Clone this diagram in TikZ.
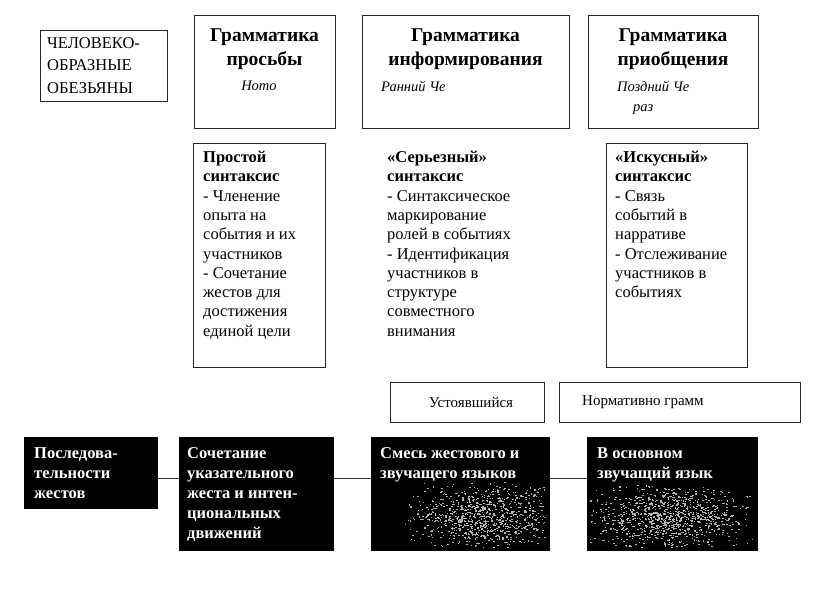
\documentclass[tikz,border=0pt]{standalone}
\usepackage{fontspec}
\setmainfont{Liberation Serif}
\begin{document}
\begin{tikzpicture}[x=1pt,y=-1pt,
  frame/.style={draw=black!85, line width=0.9pt, inner sep=0pt, anchor=north west},
  darkbox/.style={fill=black, draw=black, inner sep=0pt, anchor=north west},
  titletext/.style={font=\fontsize{19.5}{24}\selectfont\bfseries, align=center, anchor=north, inner sep=0pt},
  subtext/.style={font=\fontsize{14.5}{25}\selectfont\itshape, inner sep=0pt},
  apetext/.style={font=\fontsize{16.5}{22.5}\selectfont, align=left, anchor=north west, inner sep=0pt},
  bodytext/.style={font=\fontsize{16.5}{19.3}\selectfont, align=left, anchor=north west, inner sep=0pt},
  labeltext/.style={font=\fontsize{15}{18}\selectfont, inner sep=0pt},
  whitetext/.style={font=\fontsize{16.5}{20}\selectfont\bfseries, text=white, align=left, anchor=north west, inner sep=0pt},
  link/.style={draw=black!80, line width=0.9pt},
  grain/.style={fill=black!30, draw=none}
]
\useasboundingbox (0,0) rectangle (817,596);

% Apes box
\node[frame, minimum width=127pt, minimum height=71pt] (apes) at (40,30) {};
\node[apetext] (apesT) at (47,37) {ЧЕЛОВЕКО-\\ОБРАЗНЫЕ\\ОБЕЗЬЯНЫ};

% Top grammar boxes
\node[frame, minimum width=141pt, minimum height=113pt] (g1) at (194,15) {};
\node[frame, minimum width=207pt, minimum height=113pt] (g2) at (362,15) {};
\node[frame, minimum width=170pt, minimum height=113pt] (g3) at (588,15) {};

\node[titletext] (g1T) at (264.5,29) {Грамматика\\просьбы};
\node[titletext] (g2T) at (465.5,29) {Грамматика\\информирования};
\node[titletext] (g3T) at (673,29) {Грамматика\\приобщения};

\node[subtext] (g1S) at (259,86) {Homo};
\node[subtext, anchor=west] (g2S) at (381,86) {Ранний Че};
\node[subtext, anchor=west] (g3S) at (617,86) {Поздний Че};
\node[subtext, anchor=west] (g3S2) at (633,110) {раз};

% Middle syntax boxes
\node[frame, minimum width=132pt, minimum height=224pt] (s1) at (193,143) {};
\node[frame, minimum width=141pt, minimum height=224pt] (s3) at (606,143) {};

\node[bodytext] (s1T) at (203,151) {\textbf{Простой}\\\textbf{синтаксис}\\- Членение\\опыта на\\события и их\\участников\\- Сочетание\\жестов для\\достижения\\единой цели};
\node[bodytext] (s2T) at (387,151) {\textbf{«Серьезный»}\\\textbf{синтаксис}\\- Синтаксическое\\маркирование\\ролей в событиях\\- Идентификация\\участников в\\структуре\\совместного\\внимания};
\node[bodytext] (s3T) at (615,151) {\textbf{«Искусный»}\\\textbf{синтаксис}\\- Связь\\событий в\\нарративе\\- Отслеживание\\участников в\\событиях};

% Label boxes
\node[frame, minimum width=154pt, minimum height=40pt] (l1) at (390,382) {};
\node[frame, minimum width=241pt, minimum height=40pt] (l2) at (559,382) {};
\node[labeltext] (l1T) at (471,402) {Устоявшийся};
\node[labeltext, anchor=west] (l2T) at (582,402) {Нормативно грамм};

% Dark boxes
\node[darkbox, minimum width=133pt, minimum height=71pt] (b1) at (24,437) {};
\node[darkbox, minimum width=154pt, minimum height=113pt] (b2) at (179,437) {};
\node[darkbox, minimum width=178pt, minimum height=113pt] (b3) at (371,437) {};
\node[darkbox, minimum width=170pt, minimum height=113pt] (b4) at (587,437) {};

% scan grain in the lower parts of the dark boxes
\pgfmathsetseed{4242}
\begin{scope}
  \clip ([xshift=3pt,yshift=-3pt]b3.north west) rectangle ([xshift=-3pt,yshift=3pt]b3.south east);
  \foreach \i in {1,...,900} {
    \pgfmathsetmacro{\gx}{482+80*(rand+rand)/2}
    \pgfmathsetmacro{\gy}{516+36*(rand+rand)/2}
    \fill[grain] (\gx,\gy) rectangle ++(1.5,1.1);
  }
\end{scope}
\begin{scope}
  \clip ([xshift=3pt,yshift=-3pt]b4.north west) rectangle ([xshift=-3pt,yshift=3pt]b4.south east);
  \foreach \i in {1,...,1000} {
    \pgfmathsetmacro{\gx}{668+88*(rand+rand)/2}
    \pgfmathsetmacro{\gy}{517+34*(rand+rand)/2}
    \fill[grain] (\gx,\gy) rectangle ++(1.5,1.1);
  }
\end{scope}

\node[whitetext] (b1T) at (34,447) {Последова-\\тельности\\жестов};
\node[whitetext] (b2T) at (187,447) {Сочетание\\указательного\\жеста и интен-\\циональных\\движений};
\node[whitetext] (b3T) at (380,447) {Смесь жестового и\\звучащего языков};
\node[whitetext] (b4T) at (597,447) {В основном\\звучащий язык};

% Connectors
\draw[link] (b1.east |- 0,478) -- (b2.west |- 0,478);
\draw[link] (b2.east |- 0,478) -- (b3.west |- 0,478);
\draw[link] (b3.east |- 0,478) -- (b4.west |- 0,478);
\end{tikzpicture}
\end{document}
